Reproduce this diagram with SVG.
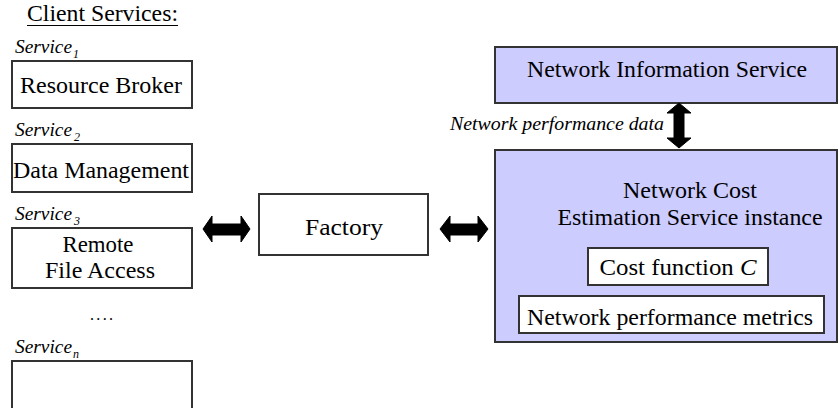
<svg xmlns="http://www.w3.org/2000/svg" width="839" height="408" viewBox="0 0 839 408">
<style>
  .t { font-family: "Liberation Serif", "DejaVu Serif", "Noto Serif", serif; font-size: 24px; fill: #000; }
  .m { text-anchor: middle; }
  .lbl { font-family: "Liberation Serif", "DejaVu Serif", "Noto Serif", serif; font-style: italic; font-size: 18px; fill: #000; }
  .sub { font-family: "Liberation Serif", "DejaVu Serif", "Noto Serif", serif; font-style: italic; font-size: 12px; fill: #000; }
  .box { fill: #fff; stroke: #333; stroke-width: 2; }
  .blue { fill: #ccccff; stroke: #333; stroke-width: 2; }
  .arrow { fill: #000; stroke: #000; stroke-width: 1; stroke-linejoin: round; }
</style>
<rect width="839" height="408" fill="#fff"/>

<g id="client-services-title">
  <text class="t" x="27" y="21" textLength="151" lengthAdjust="spacingAndGlyphs">Client Services:</text>
  <line x1="27" y1="25.5" x2="178" y2="25.5" stroke="#000" stroke-width="1"/>
</g>

<g id="service1">
  <text class="lbl" x="15" y="53" textLength="57" lengthAdjust="spacingAndGlyphs">Service</text>
  <text class="sub" x="73" y="58">1</text>
  <rect class="box" x="12" y="61" width="180" height="47"/>
  <text class="t m" x="101" y="93" textLength="162" lengthAdjust="spacingAndGlyphs">Resource Broker</text>
</g>

<g id="service2">
  <text class="lbl" x="15" y="136" textLength="57" lengthAdjust="spacingAndGlyphs">Service</text>
  <text class="sub" x="74" y="141">2</text>
  <rect class="box" x="12" y="144" width="180" height="48"/>
  <text class="t m" x="101" y="178" textLength="176" lengthAdjust="spacingAndGlyphs">Data Management</text>
</g>

<g id="service3">
  <text class="lbl" x="15" y="220" textLength="57" lengthAdjust="spacingAndGlyphs">Service</text>
  <text class="sub" x="74" y="225">3</text>
  <rect class="box" x="12" y="228" width="180" height="60"/>
  <text class="t m" x="98" y="252" textLength="71" lengthAdjust="spacingAndGlyphs">Remote</text>
  <text class="t m" x="100" y="278" textLength="110" lengthAdjust="spacingAndGlyphs">File Access</text>
</g>

<g id="ellipsis">
  <text class="t" x="90" y="320" style="font-size:16px" textLength="23" lengthAdjust="spacing">....</text>
</g>

<g id="servicen">
  <text class="lbl" x="15" y="353" textLength="57" lengthAdjust="spacingAndGlyphs">Service</text>
  <text class="sub" x="73" y="358">n</text>
  <rect class="box" x="12" y="361" width="180" height="60"/>
</g>

<g id="factory">
  <rect class="box" x="259" y="194" width="169" height="61"/>
  <text class="t m" x="344" y="235" textLength="78" lengthAdjust="spacingAndGlyphs">Factory</text>
</g>

<g id="network-information-service">
  <rect class="blue" x="495" y="47" width="342" height="56"/>
  <text class="t m" x="667" y="77" textLength="280" lengthAdjust="spacingAndGlyphs">Network Information Service</text>
</g>

<g id="network-cost-estimation-service">
  <rect class="blue" x="495" y="150" width="342" height="192"/>
  <text class="t m" x="690" y="198" textLength="134" lengthAdjust="spacingAndGlyphs">Network Cost</text>
  <text class="t m" x="690" y="225" textLength="265" lengthAdjust="spacingAndGlyphs">Estimation Service instance</text>
</g>

<g id="cost-function">
  <rect class="box" x="588" y="248" width="180" height="37"/>
  <text class="t m" x="678" y="275" textLength="157" lengthAdjust="spacingAndGlyphs">Cost function <tspan font-style="italic">C</tspan></text>
</g>

<g id="network-performance-metrics">
  <rect class="box" x="519" y="296" width="305" height="37"/>
  <text class="t m" x="670" y="325" textLength="286" lengthAdjust="spacingAndGlyphs">Network performance metrics</text>
</g>

<g id="connectors">
  <polygon class="arrow" points="203,229 212,216 212,224 241,224 241,216 250,229 241,242 241,235 212,235 212,242"/>
  <polygon class="arrow" points="440,229 450,216 450,224 478,224 478,216 488,229 478,242 478,235 450,235 450,242"/>
  <polygon class="arrow" points="679,103 691,113 684,113 684,138 691,138 679,148 667,138 674,138 674,113 667,113"/>
  <text class="lbl" x="450" y="130" textLength="214" lengthAdjust="spacingAndGlyphs">Network performance data</text>
</g>
</svg>
